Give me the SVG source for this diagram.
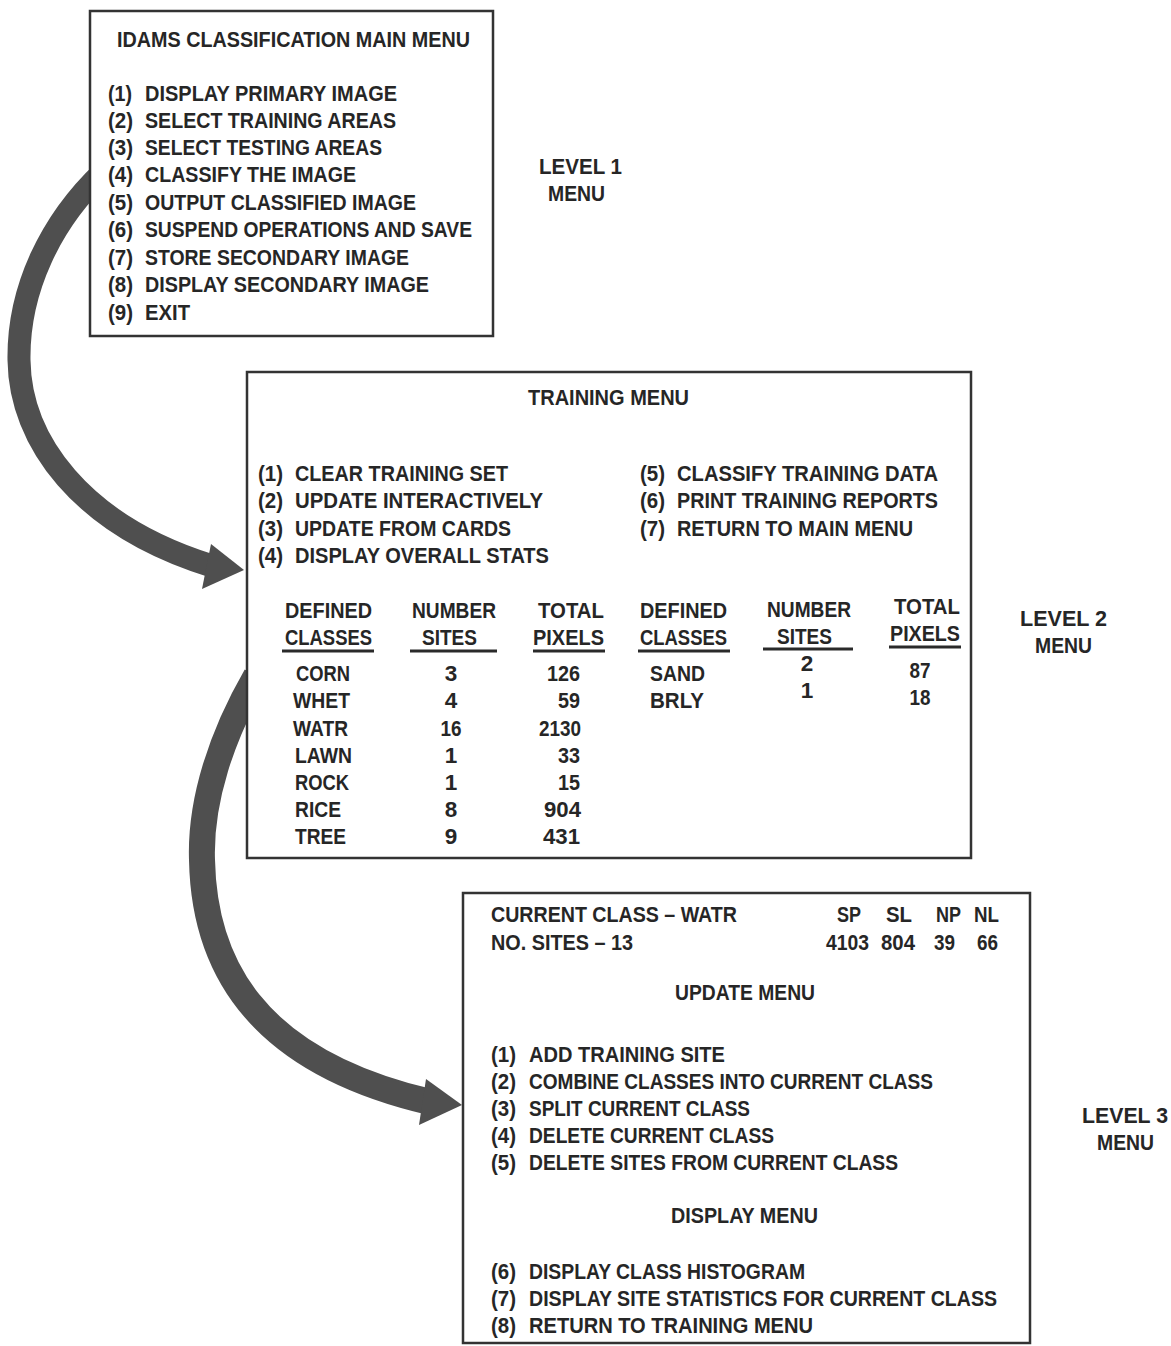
<svg xmlns="http://www.w3.org/2000/svg" width="1171" height="1346" viewBox="0 0 1171 1346">
<style>
.t{font-family:"Liberation Sans",Arial,sans-serif;font-weight:bold;font-size:22.5px;fill:#262626}
.m{text-anchor:middle}
.e{text-anchor:end}
.box{fill:#fff;stroke:#333;stroke-width:2.5}
.ul{stroke:#2a2a2a;stroke-width:3}
.shaft{fill:none;stroke:#4f4f4f;stroke-linecap:butt}
.head{fill:#4f4f4f}
</style>
<rect width="1171" height="1346" fill="#fff"/>
<g id="connectors">
<path class="shaft" stroke-width="23" d="M 104 171 C 50 222, 18 290, 19 360 C 20 440, 80 525, 212 566"/>
<polygon class="head" points="244,570 211,544 202,589"/>
<path class="shaft" stroke-width="26" d="M 256 676 C 222 735, 200 800, 202 860 C 204 960, 250 1060, 430 1102"/>
<polygon class="head" points="462,1105 426,1079 419,1125"/>
</g>
<g id="main-menu">
<rect class="box" x="90" y="11" width="403" height="325"/>
<text class="t" x="117" y="47" textLength="353" lengthAdjust="spacingAndGlyphs">IDAMS CLASSIFICATION MAIN MENU</text>
<text class="t" x="108" y="101" textLength="24" lengthAdjust="spacingAndGlyphs">(1)</text>
<text class="t" x="145" y="101" textLength="252" lengthAdjust="spacingAndGlyphs">DISPLAY PRIMARY IMAGE</text>
<text class="t" x="108" y="128" textLength="25" lengthAdjust="spacingAndGlyphs">(2)</text>
<text class="t" x="145" y="128" textLength="251" lengthAdjust="spacingAndGlyphs">SELECT TRAINING AREAS</text>
<text class="t" x="108" y="155" textLength="25" lengthAdjust="spacingAndGlyphs">(3)</text>
<text class="t" x="145" y="155" textLength="237" lengthAdjust="spacingAndGlyphs">SELECT TESTING AREAS</text>
<text class="t" x="108" y="182" textLength="25" lengthAdjust="spacingAndGlyphs">(4)</text>
<text class="t" x="145" y="182" textLength="211" lengthAdjust="spacingAndGlyphs">CLASSIFY THE IMAGE</text>
<text class="t" x="108" y="210" textLength="25" lengthAdjust="spacingAndGlyphs">(5)</text>
<text class="t" x="145" y="210" textLength="271" lengthAdjust="spacingAndGlyphs">OUTPUT CLASSIFIED IMAGE</text>
<text class="t" x="108" y="237" textLength="25" lengthAdjust="spacingAndGlyphs">(6)</text>
<text class="t" x="145" y="237" textLength="327" lengthAdjust="spacingAndGlyphs">SUSPEND OPERATIONS AND SAVE</text>
<text class="t" x="108" y="265" textLength="25" lengthAdjust="spacingAndGlyphs">(7)</text>
<text class="t" x="145" y="265" textLength="264" lengthAdjust="spacingAndGlyphs">STORE SECONDARY IMAGE</text>
<text class="t" x="108" y="292" textLength="25" lengthAdjust="spacingAndGlyphs">(8)</text>
<text class="t" x="145" y="292" textLength="284" lengthAdjust="spacingAndGlyphs">DISPLAY SECONDARY IMAGE</text>
<text class="t" x="108" y="320" textLength="25" lengthAdjust="spacingAndGlyphs">(9)</text>
<text class="t" x="145" y="320" textLength="45" lengthAdjust="spacingAndGlyphs">EXIT</text>
</g>
<g id="level1-label">
<text class="t" x="539" y="174" textLength="83" lengthAdjust="spacingAndGlyphs">LEVEL 1</text>
<text class="t" x="548" y="201" textLength="57" lengthAdjust="spacingAndGlyphs">MENU</text>
</g>
<g id="training-menu">
<rect class="box" x="247" y="372" width="724" height="486"/>
<text class="t" x="528" y="405" textLength="161" lengthAdjust="spacingAndGlyphs">TRAINING MENU</text>
<text class="t" x="258" y="481" textLength="25" lengthAdjust="spacingAndGlyphs">(1)</text>
<text class="t" x="295" y="481" textLength="213" lengthAdjust="spacingAndGlyphs">CLEAR TRAINING SET</text>
<text class="t" x="258" y="508" textLength="25" lengthAdjust="spacingAndGlyphs">(2)</text>
<text class="t" x="295" y="508" textLength="248" lengthAdjust="spacingAndGlyphs">UPDATE INTERACTIVELY</text>
<text class="t" x="258" y="536" textLength="25" lengthAdjust="spacingAndGlyphs">(3)</text>
<text class="t" x="295" y="536" textLength="216" lengthAdjust="spacingAndGlyphs">UPDATE FROM CARDS</text>
<text class="t" x="258" y="563" textLength="25" lengthAdjust="spacingAndGlyphs">(4)</text>
<text class="t" x="295" y="563" textLength="254" lengthAdjust="spacingAndGlyphs">DISPLAY OVERALL STATS</text>
<text class="t" x="640" y="481" textLength="25" lengthAdjust="spacingAndGlyphs">(5)</text>
<text class="t" x="677" y="481" textLength="261" lengthAdjust="spacingAndGlyphs">CLASSIFY TRAINING DATA</text>
<text class="t" x="640" y="508" textLength="25" lengthAdjust="spacingAndGlyphs">(6)</text>
<text class="t" x="677" y="508" textLength="261" lengthAdjust="spacingAndGlyphs">PRINT TRAINING REPORTS</text>
<text class="t" x="640" y="536" textLength="25" lengthAdjust="spacingAndGlyphs">(7)</text>
<text class="t" x="677" y="536" textLength="236" lengthAdjust="spacingAndGlyphs">RETURN TO MAIN MENU</text>
<text class="t" x="285" y="618" textLength="87" lengthAdjust="spacingAndGlyphs">DEFINED</text>
<text class="t" x="285" y="645" textLength="87" lengthAdjust="spacingAndGlyphs">CLASSES</text>
<line class="ul" x1="282" y1="651" x2="374" y2="651"/>
<text class="t" x="412" y="618" textLength="84" lengthAdjust="spacingAndGlyphs">NUMBER</text>
<text class="t" x="422" y="645" textLength="55" lengthAdjust="spacingAndGlyphs">SITES</text>
<line class="ul" x1="410" y1="651" x2="497" y2="651"/>
<text class="t" x="538" y="618" textLength="66" lengthAdjust="spacingAndGlyphs">TOTAL</text>
<text class="t" x="533" y="645" textLength="71" lengthAdjust="spacingAndGlyphs">PIXELS</text>
<line class="ul" x1="533" y1="651" x2="605" y2="651"/>
<text class="t" x="640" y="618" textLength="87" lengthAdjust="spacingAndGlyphs">DEFINED</text>
<text class="t" x="640" y="645" textLength="87" lengthAdjust="spacingAndGlyphs">CLASSES</text>
<line class="ul" x1="638" y1="651" x2="730" y2="651"/>
<text class="t" x="767" y="617" textLength="84" lengthAdjust="spacingAndGlyphs">NUMBER</text>
<text class="t" x="777" y="644" textLength="55" lengthAdjust="spacingAndGlyphs">SITES</text>
<line class="ul" x1="763" y1="649" x2="853" y2="649"/>
<text class="t" x="894" y="614" textLength="66" lengthAdjust="spacingAndGlyphs">TOTAL</text>
<text class="t" x="890" y="641" textLength="70" lengthAdjust="spacingAndGlyphs">PIXELS</text>
<line class="ul" x1="889" y1="647" x2="961" y2="647"/>
<text class="t" x="296" y="681" textLength="54" lengthAdjust="spacingAndGlyphs">CORN</text>
<text class="t" x="293" y="708" textLength="57" lengthAdjust="spacingAndGlyphs">WHET</text>
<text class="t" x="293" y="736" textLength="55" lengthAdjust="spacingAndGlyphs">WATR</text>
<text class="t" x="295" y="763" textLength="57" lengthAdjust="spacingAndGlyphs">LAWN</text>
<text class="t" x="295" y="790" textLength="54" lengthAdjust="spacingAndGlyphs">ROCK</text>
<text class="t" x="295" y="817" textLength="46" lengthAdjust="spacingAndGlyphs">RICE</text>
<text class="t" x="295" y="844" textLength="51" lengthAdjust="spacingAndGlyphs">TREE</text>
<text class="t m" x="451" y="681">3</text>
<text class="t m" x="451" y="708">4</text>
<text class="t m" x="451" y="736" textLength="21" lengthAdjust="spacingAndGlyphs">16</text>
<text class="t m" x="451" y="763">1</text>
<text class="t m" x="451" y="790">1</text>
<text class="t m" x="451" y="817">8</text>
<text class="t m" x="451" y="844">9</text>
<text class="t e" x="580" y="681" textLength="33" lengthAdjust="spacingAndGlyphs">126</text>
<text class="t e" x="580" y="708" textLength="22" lengthAdjust="spacingAndGlyphs">59</text>
<text class="t e" x="581" y="736" textLength="42" lengthAdjust="spacingAndGlyphs">2130</text>
<text class="t e" x="580" y="763" textLength="22" lengthAdjust="spacingAndGlyphs">33</text>
<text class="t e" x="580" y="790" textLength="22" lengthAdjust="spacingAndGlyphs">15</text>
<text class="t e" x="581" y="817" textLength="37" lengthAdjust="spacingAndGlyphs">904</text>
<text class="t e" x="580" y="844" textLength="37" lengthAdjust="spacingAndGlyphs">431</text>
<text class="t" x="650" y="681" textLength="55" lengthAdjust="spacingAndGlyphs">SAND</text>
<text class="t" x="650" y="708" textLength="54" lengthAdjust="spacingAndGlyphs">BRLY</text>
<text class="t m" x="807" y="671">2</text>
<text class="t m" x="807" y="698">1</text>
<text class="t m" x="920" y="678" textLength="21" lengthAdjust="spacingAndGlyphs">87</text>
<text class="t m" x="920" y="705" textLength="21" lengthAdjust="spacingAndGlyphs">18</text>
</g>
<g id="level2-label">
<text class="t" x="1020" y="626" textLength="87" lengthAdjust="spacingAndGlyphs">LEVEL 2</text>
<text class="t" x="1035" y="653" textLength="57" lengthAdjust="spacingAndGlyphs">MENU</text>
</g>
<g id="update-menu">
<rect class="box" x="463" y="893" width="567" height="450"/>
<text class="t" x="491" y="922" textLength="246" lengthAdjust="spacingAndGlyphs">CURRENT CLASS – WATR</text>
<text class="t" x="491" y="950" textLength="142" lengthAdjust="spacingAndGlyphs">NO. SITES – 13</text>
<text class="t" x="837" y="922" textLength="24" lengthAdjust="spacingAndGlyphs">SP</text>
<text class="t" x="886" y="922" textLength="26" lengthAdjust="spacingAndGlyphs">SL</text>
<text class="t" x="936" y="922" textLength="25" lengthAdjust="spacingAndGlyphs">NP</text>
<text class="t" x="974" y="922" textLength="25" lengthAdjust="spacingAndGlyphs">NL</text>
<text class="t" x="826" y="950" textLength="43" lengthAdjust="spacingAndGlyphs">4103</text>
<text class="t" x="881" y="950" textLength="34" lengthAdjust="spacingAndGlyphs">804</text>
<text class="t" x="934" y="950" textLength="21" lengthAdjust="spacingAndGlyphs">39</text>
<text class="t" x="977" y="950" textLength="21" lengthAdjust="spacingAndGlyphs">66</text>
<text class="t" x="675" y="1000" textLength="140" lengthAdjust="spacingAndGlyphs">UPDATE MENU</text>
<text class="t" x="491" y="1062" textLength="25" lengthAdjust="spacingAndGlyphs">(1)</text>
<text class="t" x="529" y="1062" textLength="196" lengthAdjust="spacingAndGlyphs">ADD TRAINING SITE</text>
<text class="t" x="491" y="1089" textLength="25" lengthAdjust="spacingAndGlyphs">(2)</text>
<text class="t" x="529" y="1089" textLength="404" lengthAdjust="spacingAndGlyphs">COMBINE CLASSES INTO CURRENT CLASS</text>
<text class="t" x="491" y="1116" textLength="25" lengthAdjust="spacingAndGlyphs">(3)</text>
<text class="t" x="529" y="1116" textLength="221" lengthAdjust="spacingAndGlyphs">SPLIT CURRENT CLASS</text>
<text class="t" x="491" y="1143" textLength="25" lengthAdjust="spacingAndGlyphs">(4)</text>
<text class="t" x="529" y="1143" textLength="245" lengthAdjust="spacingAndGlyphs">DELETE CURRENT CLASS</text>
<text class="t" x="491" y="1170" textLength="25" lengthAdjust="spacingAndGlyphs">(5)</text>
<text class="t" x="529" y="1170" textLength="369" lengthAdjust="spacingAndGlyphs">DELETE SITES FROM CURRENT CLASS</text>
<text class="t" x="671" y="1223" textLength="147" lengthAdjust="spacingAndGlyphs">DISPLAY MENU</text>
<text class="t" x="491" y="1279" textLength="25" lengthAdjust="spacingAndGlyphs">(6)</text>
<text class="t" x="529" y="1279" textLength="276" lengthAdjust="spacingAndGlyphs">DISPLAY CLASS HISTOGRAM</text>
<text class="t" x="491" y="1306" textLength="25" lengthAdjust="spacingAndGlyphs">(7)</text>
<text class="t" x="529" y="1306" textLength="468" lengthAdjust="spacingAndGlyphs">DISPLAY SITE STATISTICS FOR CURRENT CLASS</text>
<text class="t" x="491" y="1333" textLength="25" lengthAdjust="spacingAndGlyphs">(8)</text>
<text class="t" x="529" y="1333" textLength="284" lengthAdjust="spacingAndGlyphs">RETURN TO TRAINING MENU</text>
</g>
<g id="level3-label">
<text class="t" x="1082" y="1123" textLength="86" lengthAdjust="spacingAndGlyphs">LEVEL 3</text>
<text class="t" x="1097" y="1150" textLength="57" lengthAdjust="spacingAndGlyphs">MENU</text>
</g>
</svg>
